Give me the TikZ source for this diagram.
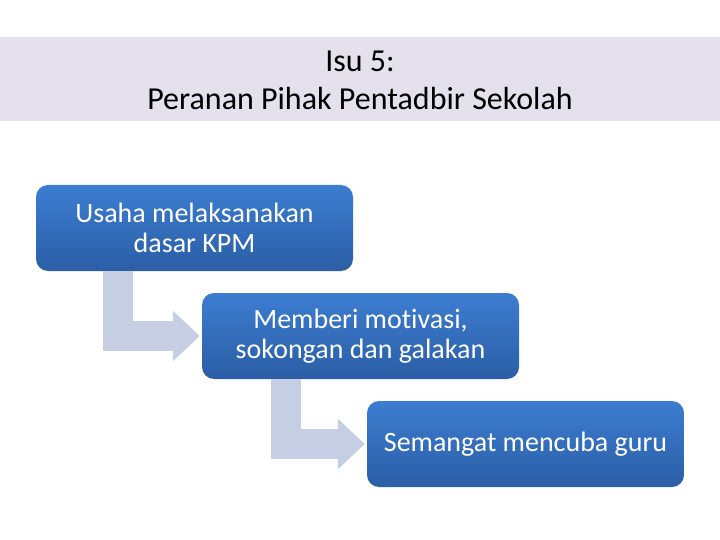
\documentclass[tikz,border=0pt]{standalone}
\usepackage{fontspec}
\setmainfont[Ligatures={NoCommon}]{Carlito}
\usetikzlibrary{arrows.meta}
\definecolor{bandgrey}{RGB}{228,224,236}
\definecolor{boxtop}{RGB}{60,125,209}
\definecolor{boxbot}{RGB}{43,94,166}
\definecolor{arrowgrey}{RGB}{197,206,226}

\begin{document}
\begin{tikzpicture}[x=1pt, y=-1pt,
	stage/.style={rounded corners=12pt, top color=boxtop, bottom color=boxbot, text=white,
		minimum width=317pt, minimum height=86pt, inner sep=0pt, align=center,
		font=\fontsize{28}{30}\selectfont},
	bent/.style={arrowgrey, line width=30pt, line join=miter,
		-{Triangle[length=27pt, width=49pt]}, shorten >=2pt}]
			
			\useasboundingbox (0, 0) rectangle (720, 540);
			
			% title band
			\fill [bandgrey] (0, 37) rectangle (720, 121);
			\node [align=center, font=\fontsize{32}{38}\selectfont] (title) at (360, 80) {Isu 5:\\Peranan Pihak Pentadbir Sekolah};
			
			\node [stage] (usaha) at (194.5, 228) {Usaha melaksanakan\\dasar KPM};
			\node [stage] (motivasi) at (360.5, 336) {Memberi motivasi,\\sokongan dan galakan};
			\node [stage] (semangat) at (525.5, 444) {Semangat mencuba guru};
			
			\draw [bent] ([xshift=82pt]usaha.south west) |- (motivasi.west);
			\draw [bent] ([xshift=84pt]motivasi.south west) |- (semangat.west);
			
			\end{tikzpicture}
\end{document}
